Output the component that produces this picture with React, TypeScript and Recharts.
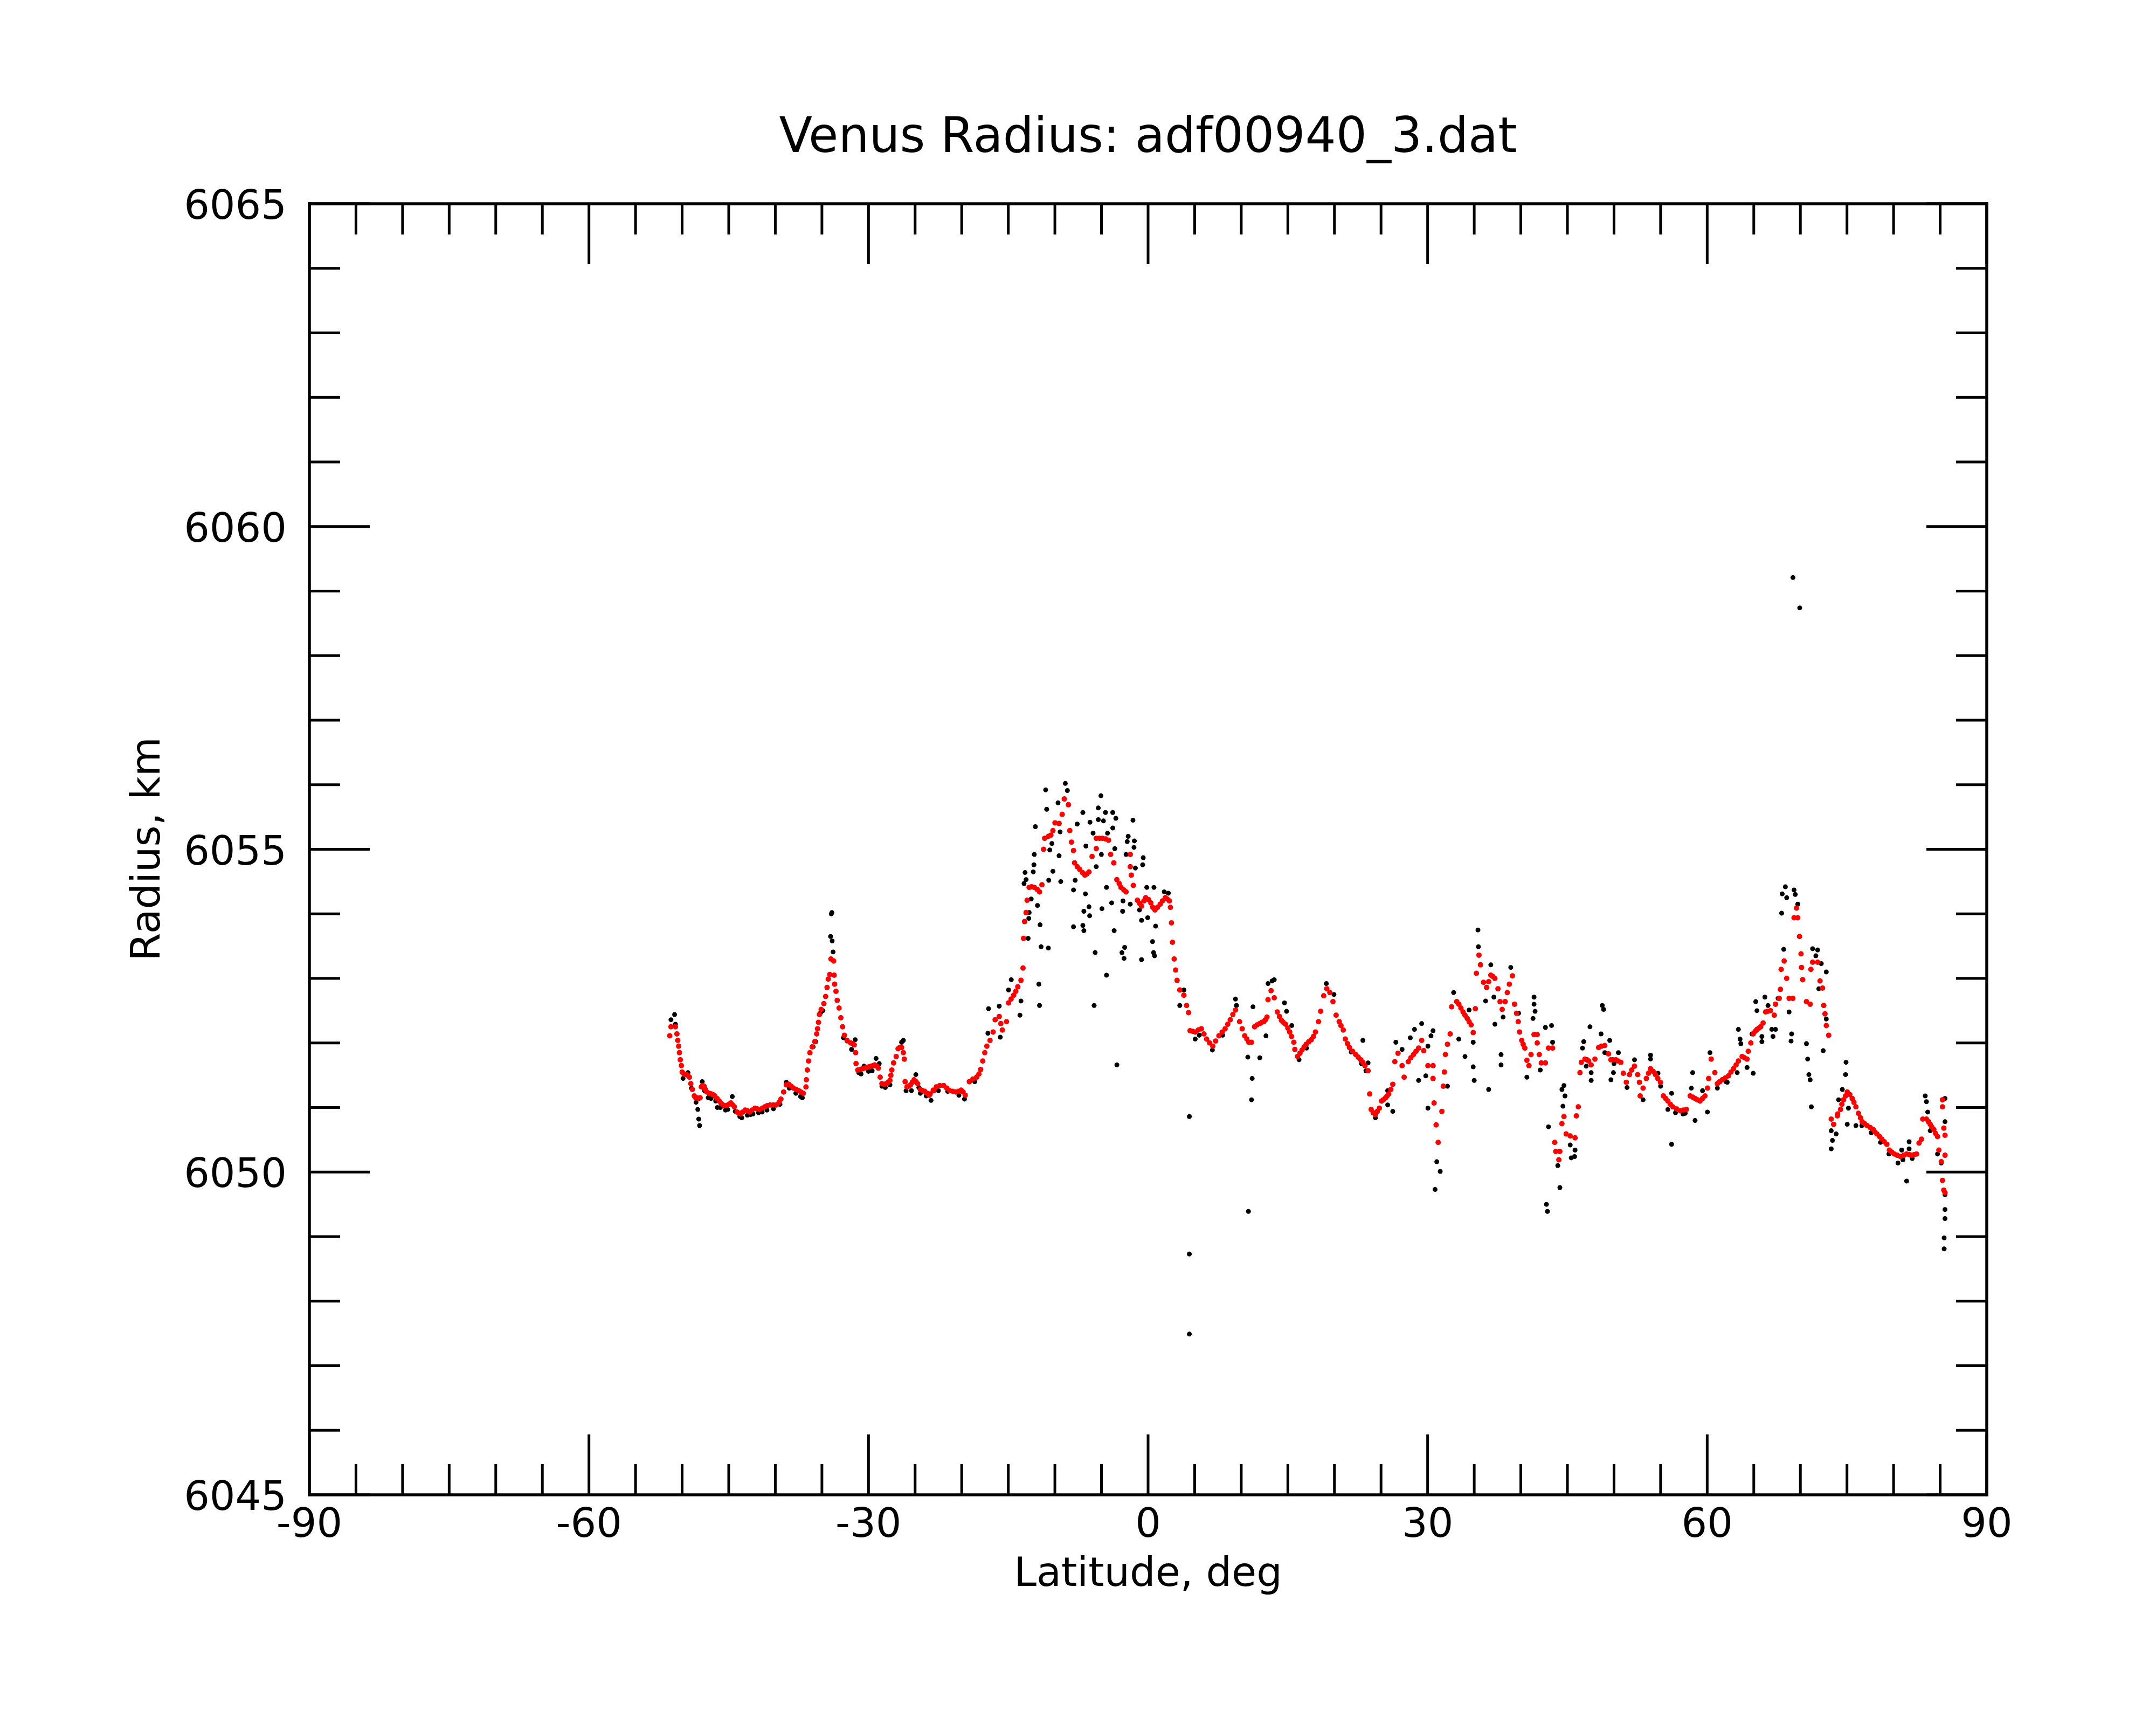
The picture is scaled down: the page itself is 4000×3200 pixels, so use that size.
import React from 'react';
import { ScatterChart, Scatter, XAxis, YAxis } from 'recharts';

const CHART_TITLE = 'Venus Radius: adf00940_3.dat';
const X_LABEL = 'Latitude, deg';
const Y_LABEL = 'Radius, km';

const xTicks = [-90, -85, -80, -75, -70, -65, -60, -55, -50, -45, -40, -35, -30, -25, -20, -15, -10, -5, 0, 5, 10, 15, 20, 25, 30, 35, 40, 45, 50, 55, 60, 65, 70, 75, 80, 85, 90];
const xTickLabels = [-90, -60, -30, 0, 30, 60, 90];
const yTicks = [6045, 6046, 6047, 6048, 6049, 6050, 6051, 6052, 6053, 6054, 6055, 6056, 6057, 6058, 6059, 6060, 6061, 6062, 6063, 6064, 6065];
const yTickLabels = [6045, 6050, 6055, 6060, 6065];

// smoothed radius (red), [latitude, radius]
const smoothSouth: [number, number][] = [
  [-51.33, 6052.11], [-51.2, 6052.25], [-50.72, 6052.25], [-50.56, 6052.14], [-50.47, 6052.04], [-50.37, 6051.95], [-50.29, 6051.85], [-50.2, 6051.74], [-50.08, 6051.65], [-50.0, 6051.55],
  [-49.57, 6051.51], [-49.22, 6051.47], [-49.07, 6051.37], [-48.9, 6051.28], [-48.7, 6051.18], [-48.41, 6051.15], [-48.07, 6051.15], [-47.94, 6051.32], [-47.65, 6051.33], [-47.36, 6051.24],
  [-46.88, 6051.21], [-46.5, 6051.18], [-46.02, 6051.1], [-45.63, 6051.04], [-45.25, 6051.03], [-44.77, 6051.07], [-44.39, 6051.01], [-44.1, 6050.93], [-43.72, 6050.9], [-43.24, 6050.96],
  [-42.76, 6050.93], [-42.18, 6050.99], [-41.7, 6050.97], [-41.13, 6051.01], [-40.55, 6051.04], [-39.88, 6051.04], [-39.4, 6051.13], [-39.11, 6051.24], [-38.82, 6051.35], [-38.54, 6051.36],
  [-38.06, 6051.3], [-37.48, 6051.26], [-37.0, 6051.22], [-36.71, 6051.32], [-36.67, 6051.43], [-36.56, 6051.58], [-36.43, 6051.72], [-36.29, 6051.85], [-36.04, 6051.94], [-35.76, 6052.02],
  [-35.56, 6052.14], [-35.47, 6052.22], [-35.37, 6052.32], [-35.27, 6052.44], [-35.08, 6052.52], [-34.79, 6052.61], [-34.6, 6052.72], [-34.45, 6052.86], [-34.32, 6052.99], [-34.16, 6053.06],
  [-34.03, 6053.3], [-33.74, 6053.27], [-33.68, 6053.05], [-33.64, 6052.91], [-33.49, 6052.8], [-33.36, 6052.66], [-33.16, 6052.54], [-32.97, 6052.39], [-32.78, 6052.25], [-32.59, 6052.12],
  [-32.3, 6052.04], [-31.92, 6052.0], [-31.53, 6051.97], [-31.38, 6051.85], [-31.34, 6051.68], [-31.15, 6051.58], [-30.67, 6051.6], [-30.19, 6051.62], [-29.71, 6051.64], [-29.33, 6051.66],
  [-28.95, 6051.61], [-28.75, 6051.47], [-28.56, 6051.37], [-28.08, 6051.37], [-27.7, 6051.42], [-27.6, 6051.5], [-27.5, 6051.58], [-27.31, 6051.69], [-27.03, 6051.79], [-26.83, 6051.91],
  [-26.45, 6051.93], [-26.26, 6051.85], [-26.16, 6051.75], [-26.07, 6051.4], [-25.88, 6051.32], [-25.49, 6051.35], [-25.11, 6051.43], [-24.73, 6051.37], [-24.44, 6051.28], [-23.96, 6051.25],
  [-23.48, 6051.19], [-23.0, 6051.26],
  [-49.8, 6051.52], [-49.4, 6051.5], [-48.55, 6051.15], [-48.25, 6051.14], [-47.8, 6051.34], [-47.5, 6051.28], [-47.1, 6051.22], [-46.7, 6051.2], [-46.25, 6051.14], [-45.85, 6051.07],
  [-45.45, 6051.03], [-45.0, 6051.05], [-44.58, 6051.04], [-43.9, 6050.91], [-43.5, 6050.93], [-43.0, 6050.95], [-42.5, 6050.96], [-41.95, 6050.98], [-41.4, 6050.99], [-40.85, 6051.03],
  [-40.2, 6051.04], [-39.6, 6051.08], [-38.3, 6051.33], [-37.75, 6051.28], [-37.25, 6051.24], [-31.7, 6051.99], [-30.9, 6051.59], [-30.45, 6051.61], [-29.95, 6051.63], [-29.5, 6051.65],
  [-29.1, 6051.64], [-28.3, 6051.36], [-27.9, 6051.39], [-26.65, 6051.93], [-25.7, 6051.33], [-25.3, 6051.39], [-24.9, 6051.4], [-24.2, 6051.26], [-23.7, 6051.22],
];

const smoothEquator: [number, number][] = [
  [-23.38, 6051.21], [-22.72, 6051.32], [-21.94, 6051.34], [-21.28, 6051.26], [-20.62, 6051.24], [-20.06, 6051.27], [-19.62, 6051.19], [-19.18, 6051.4], [-18.4, 6051.47], [-17.96, 6051.59],
  [-17.74, 6051.72], [-17.52, 6051.85], [-17.3, 6051.95], [-16.96, 6052.04], [-16.63, 6052.17], [-16.41, 6052.36], [-15.97, 6052.41], [-15.64, 6052.2], [-15.19, 6052.33], [-14.97, 6052.62],
  [-14.42, 6052.74], [-13.98, 6052.87], [-13.64, 6052.97], [-13.42, 6053.16], [-13.36, 6053.62], [-13.25, 6053.88], [-13.09, 6054.02], [-12.98, 6054.21], [-12.76, 6054.41], [-12.21, 6054.41],
  [-11.65, 6054.34], [-11.39, 6054.45], [-11.21, 6055.0], [-11.1, 6055.17], [-10.43, 6055.22], [-10.21, 6055.29], [-9.99, 6055.41], [-9.55, 6055.4], [-9.22, 6055.54], [-8.99, 6055.78],
  [-8.55, 6055.69], [-8.4, 6055.29], [-8.22, 6055.11], [-8.0, 6054.98], [-7.89, 6054.79], [-7.34, 6054.69], [-6.78, 6054.6], [-6.34, 6054.65], [-6.01, 6054.89], [-5.56, 6055.01],
  [-5.56, 6055.17], [-4.9, 6055.17], [-4.24, 6055.14], [-4.02, 6054.92], [-3.68, 6054.79], [-3.35, 6054.53], [-2.91, 6054.41], [-2.36, 6054.34], [-1.91, 6054.92], [-1.91, 6054.73],
  [-1.8, 6054.6], [-1.58, 6054.44], [-1.14, 6054.21], [-0.7, 6054.12], [-0.25, 6054.25], [0.3, 6054.17], [0.74, 6054.06], [1.3, 6054.15], [1.85, 6054.25], [2.29, 6054.2],
  [2.4, 6054.1], [2.51, 6053.86], [2.62, 6053.56], [2.8, 6053.3], [2.96, 6053.13], [3.11, 6052.97], [3.4, 6052.82], [3.84, 6052.74], [4.13, 6052.58], [4.35, 6052.47],
  [4.51, 6052.19], [5.06, 6052.17], [5.72, 6052.22], [6.28, 6052.06], [6.94, 6051.95], [7.6, 6052.11], [8.27, 6052.22], [8.82, 6052.36], [9.38, 6052.51], [9.82, 6052.33],
  [10.37, 6052.11], [10.81, 6052.01],
  [-23.05, 6051.27], [-22.35, 6051.34], [-21.6, 6051.3], [-20.95, 6051.25], [-20.35, 6051.25], [-19.85, 6051.24], [-18.8, 6051.44], [-18.15, 6051.52], [-15.8, 6052.3], [-14.7, 6052.68],
  [-14.2, 6052.8], [-12.5, 6054.42], [-11.9, 6054.38], [-10.7, 6055.2], [-7.6, 6054.73], [-7.05, 6054.64], [-6.55, 6054.62], [-5.2, 6055.17], [-4.55, 6055.16], [-3.1, 6054.47],
  [-2.6, 6054.37], [-0.9, 6054.16], [-0.45, 6054.2], [0.05, 6054.22], [0.5, 6054.1], [1.0, 6054.1], [1.55, 6054.2], [2.05, 6054.23], [4.8, 6052.18], [5.4, 6052.2],
  [6.0, 6052.14], [6.6, 6052.0], [7.25, 6052.03], [7.95, 6052.17], [8.55, 6052.29], [9.1, 6052.44], [10.1, 6052.22], [10.6, 6052.06],
];

const smoothMidNorth: [number, number][] = [
  [11.1, 6052.01], [11.43, 6052.25], [11.99, 6052.3], [12.43, 6052.33], [12.76, 6052.4], [12.87, 6052.67], [13.2, 6052.81], [13.54, 6052.7], [13.87, 6052.48], [14.31, 6052.35],
  [14.75, 6052.29], [15.2, 6052.17], [15.64, 6052.01], [15.75, 6051.9], [16.04, 6051.79], [16.52, 6051.89], [16.97, 6051.98], [17.52, 6052.05], [17.96, 6052.17], [18.29, 6052.33],
  [18.52, 6052.49], [18.85, 6052.73], [19.18, 6052.84], [19.51, 6052.78], [19.84, 6052.64], [20.18, 6052.43], [20.51, 6052.33], [20.95, 6052.2], [21.17, 6052.06], [21.61, 6051.93],
  [22.28, 6051.82], [22.83, 6051.74], [23.27, 6051.65], [23.61, 6051.57], [23.78, 6051.21], [23.94, 6050.97], [24.38, 6050.89], [24.82, 6050.99], [25.05, 6051.1], [25.49, 6051.15],
  [25.82, 6051.21], [26.26, 6051.36], [26.48, 6051.71], [26.82, 6051.84], [27.26, 6051.65], [27.48, 6051.47], [27.92, 6051.71], [28.48, 6051.82], [29.03, 6051.92], [29.36, 6052.04],
  [29.58, 6051.88], [30.03, 6051.65], [30.58, 6051.65], [30.58, 6051.45], [30.69, 6051.07], [30.91, 6050.73], [31.13, 6050.46], [31.53, 6050.94], [31.68, 6051.33], [31.8, 6051.55],
  [31.91, 6051.82], [32.13, 6051.98], [32.42, 6052.14], [32.57, 6052.56], [33.12, 6052.64], [33.57, 6052.54], [34.01, 6052.43], [34.45, 6052.33], [34.67, 6052.28], [34.89, 6052.16],
  [35.12, 6052.53], [35.23, 6053.08], [35.51, 6053.36], [35.67, 6053.21], [36.0, 6052.94], [36.33, 6052.86], [36.78, 6053.05], [37.22, 6053.0], [37.55, 6052.84], [37.77, 6052.64],
  [38.0, 6052.52], [38.32, 6052.64], [38.55, 6052.78], [38.77, 6052.91], [39.1, 6053.04], [39.32, 6052.6], [39.54, 6052.46], [39.72, 6052.33], [39.87, 6052.17], [40.1, 6052.04],
  [40.43, 6051.92], [40.65, 6051.73], [40.87, 6051.65], [41.09, 6051.82], [41.42, 6052.13], [41.76, 6052.13], [41.76, 6052.0], [41.98, 6051.82], [42.2, 6051.69], [42.64, 6051.69],
  [42.97, 6051.92], [43.41, 6051.92], [43.64, 6050.46], [43.75, 6050.32], [44.08, 6050.19], [44.19, 6050.32], [44.41, 6050.75], [44.63, 6050.86], [44.86, 6050.59], [45.3, 6050.56],
  [11.7, 6052.28], [12.2, 6052.32], [12.6, 6052.36], [14.1, 6052.41], [14.5, 6052.32], [15.0, 6052.23], [15.4, 6052.1], [16.3, 6051.84], [16.75, 6051.94], [17.25, 6052.02],
  [17.75, 6052.1], [20.7, 6052.27], [21.4, 6051.99], [21.95, 6051.87], [22.55, 6051.78], [23.05, 6051.7], [24.15, 6050.92], [24.6, 6050.94], [25.25, 6051.12], [25.65, 6051.18],
  [26.05, 6051.28], [28.2, 6051.77], [28.75, 6051.87], [33.35, 6052.6], [33.8, 6052.48], [34.25, 6052.38], [36.55, 6052.95], [37.0, 6053.03], [40.25, 6051.98],
];

const smoothNorth: [number, number][] = [
  [45.82, 6050.53], [45.96, 6050.87], [46.17, 6051.01], [46.35, 6051.54], [46.49, 6051.7], [46.88, 6051.75], [47.28, 6051.72], [47.55, 6051.66], [47.95, 6051.75], [48.35, 6051.93],
  [49.01, 6051.96], [49.41, 6051.83], [49.67, 6051.74], [50.2, 6051.74], [50.74, 6051.7], [51.0, 6051.53], [51.32, 6051.39], [51.66, 6051.51], [52.2, 6051.64], [52.54, 6051.51],
  [52.73, 6051.39], [52.81, 6051.18], [53.12, 6051.3], [53.47, 6051.45], [53.92, 6051.6], [54.45, 6051.51], [54.98, 6051.39], [55.3, 6051.18], [55.78, 6051.1], [56.31, 6051.01],
  [57.11, 6050.95], [57.77, 6050.97], [58.17, 6051.18], [58.7, 6051.14], [59.23, 6051.1], [59.76, 6051.18], [60.03, 6051.3], [60.16, 6051.45], [60.43, 6051.75], [60.82, 6051.54],
  [61.09, 6051.37], [61.62, 6051.43], [62.29, 6051.49], [62.82, 6051.6], [63.35, 6051.72], [63.75, 6051.79], [64.28, 6051.75], [64.41, 6051.87], [64.68, 6052.0], [64.94, 6052.14],
  [65.34, 6052.21], [65.74, 6052.25], [66.0, 6052.31], [66.27, 6052.48], [66.8, 6052.5], [67.2, 6052.43], [67.33, 6052.6], [67.73, 6052.69], [67.86, 6052.83], [67.94, 6053.14],
  [68.26, 6053.27], [68.53, 6053.0], [68.79, 6052.69], [69.19, 6052.69], [69.32, 6053.94], [69.59, 6054.09], [69.72, 6053.94], [69.91, 6053.65], [70.07, 6053.38], [70.12, 6053.17],
  [70.25, 6052.98], [70.65, 6052.64], [71.05, 6052.6], [71.13, 6053.14], [71.31, 6053.25], [71.85, 6053.25], [72.11, 6052.96], [72.38, 6052.85], [72.51, 6052.58], [72.64, 6052.45],
  [72.78, 6052.27], [73.04, 6052.12], [73.31, 6050.82], [73.57, 6050.74], [73.97, 6050.87], [74.31, 6050.97], [74.63, 6051.12], [75.03, 6051.24], [75.56, 6051.14], [75.96, 6051.01],
  [76.23, 6050.91], [76.62, 6050.78], [77.16, 6050.72], [77.82, 6050.66], [78.22, 6050.59], [78.75, 6050.51], [79.28, 6050.43], [79.55, 6050.34], [80.08, 6050.28], [80.74, 6050.24],
  [81.4, 6050.28], [81.94, 6050.26], [82.47, 6050.28], [82.73, 6050.45], [83.0, 6050.51], [83.13, 6050.82], [83.53, 6050.82], [83.93, 6050.74], [84.32, 6050.66], [84.72, 6050.55],
  [84.86, 6050.34], [85.12, 6050.16], [85.25, 6051.12], [85.25, 6051.01], [85.39, 6050.68], [85.52, 6050.57], [85.52, 6050.26], [85.25, 6049.87], [85.39, 6049.72], [85.52, 6049.68],
  [47.1, 6051.74], [48.65, 6051.95], [49.9, 6051.74], [50.45, 6051.72], [51.9, 6051.58], [53.7, 6051.53], [54.2, 6051.56], [54.7, 6051.45], [55.55, 6051.14], [56.05, 6051.05],
  [56.7, 6050.98], [57.45, 6050.96], [58.45, 6051.16], [58.95, 6051.12], [59.5, 6051.14], [61.35, 6051.4], [61.95, 6051.46], [62.55, 6051.55], [63.1, 6051.66], [64.0, 6051.77],
  [65.15, 6052.18], [65.55, 6052.23], [66.5, 6052.49], [74.0, 6050.9], [74.45, 6051.05], [74.85, 6051.18], [75.3, 6051.2], [75.75, 6051.08], [76.45, 6050.84], [76.9, 6050.75],
  [77.5, 6050.69], [78.0, 6050.62], [78.5, 6050.55], [79.0, 6050.47], [79.8, 6050.31], [80.4, 6050.26], [81.1, 6050.26], [81.7, 6050.27], [82.2, 6050.27], [83.75, 6050.78],
  [84.1, 6050.7], [84.5, 6050.6],
];

// raw radius samples (black), [latitude, radius]
const rawSouth: [number, number][] = [
  [-50.81, 6052.44], [-51.2, 6052.36], [-50.72, 6052.29], [-48.51, 6051.08], [-48.32, 6050.97], [-48.22, 6050.82], [-48.13, 6050.72], [-49.37, 6051.54], [-47.84, 6051.4], [-47.2, 6051.15],
  [-46.21, 6051.0], [-45.35, 6050.96], [-44.62, 6051.17], [-43.81, 6050.86], [-42.66, 6050.89], [-41.41, 6050.93], [-38.82, 6051.39], [-37.29, 6051.17], [-35.94, 6051.94], [-35.66, 6052.02],
  [-35.14, 6052.47], [-34.89, 6052.5], [-33.99, 6054.0], [-33.93, 6054.02], [-34.07, 6053.65], [-33.9, 6053.58], [-33.8, 6053.41], [-32.69, 6052.08], [-32.3, 6052.03], [-31.82, 6051.9],
  [-31.43, 6052.05], [-31.05, 6051.54], [-30.48, 6051.64], [-29.61, 6051.57], [-29.19, 6051.76], [-28.85, 6051.68], [-28.56, 6051.33], [-27.7, 6051.35], [-26.45, 6052.01], [-26.26, 6052.04],
  [-25.97, 6051.26], [-25.39, 6051.26], [-24.92, 6051.51], [-24.44, 6051.22], [-23.29, 6051.11],
  [-49.9, 6051.45], [-49.0, 6051.3], [-47.6, 6051.26], [-46.9, 6051.14], [-46.4, 6051.1], [-45.9, 6051.0], [-45.1, 6050.97], [-44.3, 6050.94], [-43.6, 6050.84], [-43.0, 6050.88],
  [-42.4, 6050.9], [-41.8, 6050.92], [-40.9, 6050.96], [-40.2, 6050.98], [-39.5, 6051.05], [-38.5, 6051.3], [-37.8, 6051.22], [-37.1, 6051.15], [-30.8, 6051.52], [-30.0, 6051.56],
  [-28.2, 6051.31], [-24.6, 6051.31], [-23.8, 6051.18],
];

const rawEquator: [number, number][] = [
  [-10.99, 6055.92], [-8.88, 6056.02], [-8.66, 6055.91], [-5.06, 6055.83], [-12.09, 6055.35], [-10.88, 6055.62], [-9.66, 6055.72], [-7.0, 6055.57], [-5.34, 6055.64], [-4.57, 6055.57],
  [-3.79, 6055.57], [-3.46, 6055.48], [-1.62, 6055.45], [-7.6, 6055.39], [-6.23, 6055.42], [-5.34, 6055.46], [-4.79, 6055.44], [-3.79, 6055.33], [-5.9, 6055.25], [-4.35, 6055.25],
  [-9.44, 6055.27], [-2.13, 6055.2], [-2.24, 6055.12], [-1.47, 6055.13], [-1.51, 6055.03], [-10.32, 6055.09], [-10.55, 6054.99], [-9.55, 6054.9], [-12.21, 6054.92], [-6.67, 6055.05],
  [-5.01, 6054.92], [-3.57, 6055.01], [-2.36, 6054.92], [-0.52, 6054.87], [-0.58, 6054.76], [-12.25, 6054.76], [-13.2, 6054.64], [-12.32, 6054.65], [-10.21, 6054.66], [-5.56, 6054.73],
  [-1.36, 6054.71], [-13.09, 6054.53], [-10.66, 6054.52], [-9.37, 6054.5], [-7.82, 6054.52], [-13.31, 6054.47], [-8.0, 6054.37], [-6.72, 6054.31], [-4.46, 6054.41], [-0.14, 6054.41],
  [0.63, 6054.41], [1.74, 6054.34], [2.18, 6054.32], [-12.54, 6054.23], [-11.87, 6054.13], [-3.91, 6054.17], [-2.69, 6054.2], [-1.91, 6054.15], [-6.34, 6054.11], [-6.89, 6054.04],
  [-4.95, 6054.08], [-2.73, 6054.04], [-0.92, 6054.06], [-12.76, 6054.02], [-6.27, 6053.97], [-0.7, 6053.9], [-0.04, 6053.94], [-12.8, 6053.93], [-11.59, 6053.83], [-8.0, 6053.8],
  [-7.0, 6053.82], [-6.89, 6053.74], [0.81, 6053.81], [-3.64, 6053.74], [-12.87, 6053.62], [-11.48, 6053.49], [-10.7, 6053.47], [-5.68, 6053.4], [-2.51, 6053.48], [-2.8, 6053.4],
  [-2.58, 6053.31], [-0.7, 6053.29], [0.48, 6053.57], [0.59, 6053.4], [0.7, 6053.35], [-4.46, 6053.05], [-11.72, 6052.91], [-11.65, 6052.58], [-5.79, 6052.58], [-13.75, 6052.43],
  [-13.64, 6052.65], [-14.68, 6052.98], [-15.97, 6052.57], [-17.12, 6052.53], [-14.97, 6052.82], [-17.19, 6052.15], [-15.86, 6052.09], [9.38, 6052.68], [9.49, 6052.58], [3.4, 6052.58],
  [3.84, 6052.82], [5.06, 6052.06], [-3.35, 6051.66], [10.7, 6051.78], [4.43, 6050.86], [4.43, 6048.73], [4.43, 6047.49], [10.77, 6049.39],
  [-22.5, 6051.26], [-21.5, 6051.25], [-20.3, 6051.19], [-19.7, 6051.13], [-18.6, 6051.4], [5.5, 6052.12], [6.9, 6051.89], [8.0, 6052.12],
];

const rawMidNorth: [number, number][] = [
  [13.54, 6052.98], [12.87, 6052.92], [13.31, 6052.96], [11.26, 6052.56], [12.65, 6052.11], [11.99, 6051.77], [11.17, 6051.45], [11.1, 6051.12], [14.64, 6052.62], [14.86, 6052.49],
  [15.42, 6052.27], [19.13, 6052.92], [19.95, 6052.75], [23.05, 6052.04], [23.61, 6051.69], [23.38, 6051.57], [25.71, 6051.26], [26.26, 6050.94], [25.71, 6051.04], [26.59, 6052.01],
  [27.26, 6051.9], [28.14, 6052.08], [28.59, 6052.21], [29.36, 6052.3], [30.58, 6052.19], [30.36, 6052.11], [30.03, 6051.95], [29.03, 6051.42], [29.8, 6051.49], [30.03, 6050.99],
  [32.13, 6051.33], [30.98, 6050.16], [31.35, 6050.01], [30.8, 6049.73], [32.79, 6052.78], [33.34, 6052.06], [34.01, 6051.79], [34.45, 6052.51], [34.89, 6052.01], [34.89, 6051.63],
  [35.0, 6051.42], [35.4, 6053.75], [35.45, 6053.49], [36.22, 6052.65], [36.78, 6053.21], [37.11, 6052.71], [37.22, 6052.29], [36.55, 6051.28], [37.88, 6051.82], [37.88, 6051.66],
  [38.1, 6052.4], [38.92, 6053.17], [39.76, 6052.46], [40.65, 6051.47], [41.42, 6052.71], [41.42, 6052.6], [41.53, 6052.49], [41.31, 6052.38], [42.64, 6052.24], [43.3, 6052.27],
  [43.41, 6052.01], [42.09, 6051.58], [42.97, 6050.7], [42.75, 6049.5], [42.86, 6049.39], [44.19, 6049.76], [44.63, 6051.34], [44.41, 6051.28], [44.74, 6051.18], [44.52, 6051.02],
  [43.97, 6050.1], [45.3, 6050.42], [45.41, 6050.22],
  [16.2, 6051.74], [17.0, 6051.92], [21.8, 6051.86], [22.9, 6051.68], [24.4, 6050.84],
];

const rawNorth: [number, number][] = [
  [45.82, 6050.34], [45.77, 6050.24], [46.75, 6052.02], [46.62, 6051.92], [47.42, 6052.25], [47.02, 6051.64], [47.55, 6051.54], [47.55, 6051.42], [48.74, 6052.58], [48.88, 6052.52],
  [48.61, 6052.14], [49.54, 6052.04], [49.01, 6051.85], [49.67, 6051.43], [49.94, 6051.54], [50.47, 6051.85], [51.4, 6051.31], [52.2, 6051.74], [53.12, 6051.12], [53.92, 6051.81],
  [53.92, 6051.75], [54.72, 6051.53], [56.18, 6051.22], [55.78, 6050.97], [56.18, 6050.43], [57.64, 6050.91], [58.44, 6051.54], [58.3, 6051.3], [58.7, 6050.8], [59.5, 6051.26],
  [60.03, 6050.93], [60.3, 6051.85], [61.09, 6051.3], [62.15, 6051.39], [63.22, 6051.54], [63.35, 6052.21], [63.53, 6052.06], [63.61, 6051.99], [64.28, 6051.62], [64.94, 6051.53],
  [64.81, 6052.14], [65.21, 6052.64], [65.34, 6052.5], [65.87, 6052.1], [65.87, 6052.02], [66.19, 6052.71], [66.53, 6052.58], [66.93, 6052.21], [67.06, 6052.1], [67.33, 6052.21],
  [67.6, 6052.69], [67.99, 6054.01], [68.05, 6054.31], [68.39, 6054.42], [68.53, 6054.25], [69.32, 6054.37], [69.45, 6054.3], [69.72, 6054.15], [68.21, 6053.45], [68.79, 6052.48],
  [69.06, 6052.14], [69.0, 6052.03], [70.65, 6051.99], [70.78, 6051.75], [70.91, 6051.51], [71.05, 6051.43], [71.18, 6051.01], [71.31, 6053.46], [71.85, 6053.44], [71.66, 6053.35],
  [72.24, 6053.23], [72.78, 6053.1], [71.98, 6052.84], [72.45, 6051.88], [72.78, 6052.37], [74.9, 6051.7], [74.85, 6051.51], [74.5, 6051.28], [74.1, 6051.12], [75.16, 6050.99],
  [75.03, 6050.74], [75.96, 6050.72], [73.84, 6050.59], [73.44, 6050.49], [73.31, 6050.36], [73.31, 6050.64], [80.47, 6050.14], [80.87, 6050.34], [81.67, 6050.47], [81.4, 6049.86],
  [81.67, 6050.36], [83.4, 6051.18], [83.53, 6051.09], [83.66, 6050.93], [83.93, 6050.64], [85.52, 6051.14], [85.52, 6050.78], [84.72, 6050.28], [85.12, 6050.14], [85.52, 6049.65],
  [85.52, 6049.42], [85.52, 6049.28], [85.43, 6048.98], [85.43, 6048.81], [69.2, 6059.21], [69.93, 6058.74],
  [50.0, 6051.68], [55.0, 6051.33], [56.6, 6050.92], [57.4, 6050.9], [62.0, 6051.4], [76.6, 6050.72], [77.6, 6050.61], [78.6, 6050.46], [79.5, 6050.28], [81.0, 6050.19],
  [82.0, 6050.21],
];

const toPoints = (rows: [number, number][]) => rows.map(([lat, radius]) => ({ lat, radius }));
const rawData = toPoints([...rawSouth, ...rawEquator, ...rawMidNorth, ...rawNorth]);
const smoothData = toPoints([...smoothSouth, ...smoothEquator, ...smoothMidNorth, ...smoothNorth]);

const FONT = 'DejaVu Sans';
const MAJOR_LEN = 112;
const MINOR_LEN = 57;
const TICK_W = 5;

const BlackDot = (p: any) => <circle cx={p.cx} cy={p.cy} r={4.5} fill="#000000" />;
const RedDot = (p: any) => <circle cx={p.cx} cy={p.cy} r={5} fill="#ff0000" />;

const BottomTick = (p: any) => {
  const v = p.payload.value;
  const major = xTickLabels.includes(v);
  return (
    <g>
      <line x1={p.x} y1={p.y} x2={p.x} y2={p.y - (major ? MAJOR_LEN : MINOR_LEN)} stroke="#000" strokeWidth={TICK_W} />
      {major && (
        <text x={p.x} y={p.y + 78} textAnchor="middle" fontSize={75} fontFamily={FONT} fill="#000">
          {String(v)}
        </text>
      )}
    </g>
  );
};

const TopTick = (p: any) => {
  const v = p.payload.value;
  const major = xTickLabels.includes(v);
  return <line x1={p.x} y1={p.y} x2={p.x} y2={p.y + (major ? MAJOR_LEN : MINOR_LEN)} stroke="#000" strokeWidth={TICK_W} />;
};

const LeftTick = (p: any) => {
  const v = p.payload.value;
  const major = yTickLabels.includes(v);
  return (
    <g>
      <line x1={p.x} y1={p.y} x2={p.x + (major ? MAJOR_LEN : MINOR_LEN)} y2={p.y} stroke="#000" strokeWidth={TICK_W} />
      {major && (
        <text x={p.x - 42} y={p.y + 28} textAnchor="end" fontSize={75} fontFamily={FONT} fill="#000">
          {String(v)}
        </text>
      )}
    </g>
  );
};

const RightTick = (p: any) => {
  const v = p.payload.value;
  const major = yTickLabels.includes(v);
  return <line x1={p.x} y1={p.y} x2={p.x - (major ? MAJOR_LEN : MINOR_LEN)} y2={p.y} stroke="#000" strokeWidth={TICK_W} />;
};

const axisLineStyle = { stroke: '#000', strokeWidth: 5.5, strokeLinecap: 'square' as const };

export default function App() {
  return (
    <div style={{ position: 'absolute', left: 0, top: 0, width: 4000, height: 3200, background: '#ffffff' }}>
      <ScatterChart width={4000} height={3200} margin={{ top: 377, right: 313, bottom: 426, left: 573 }}>
        <XAxis
          xAxisId="bottom"
          orientation="bottom"
          dataKey="lat"
          type="number"
          domain={[-90, 90]}
          ticks={xTicks}
          interval={0}
          height={1}
          tickSize={0}
          tickMargin={0}
          tickLine={false}
          axisLine={axisLineStyle}
          tick={<BottomTick />}
          allowDataOverflow
        />
        <XAxis
          xAxisId="top"
          orientation="top"
          dataKey="lat"
          type="number"
          domain={[-90, 90]}
          ticks={xTicks}
          interval={0}
          height={1}
          tickSize={0}
          tickMargin={0}
          tickLine={false}
          axisLine={axisLineStyle}
          tick={<TopTick />}
          allowDataOverflow
        />
        <YAxis
          yAxisId="left"
          orientation="left"
          dataKey="radius"
          type="number"
          domain={[6045, 6065]}
          ticks={yTicks}
          interval={0}
          width={1}
          tickSize={0}
          tickMargin={0}
          tickLine={false}
          axisLine={axisLineStyle}
          tick={<LeftTick />}
          allowDataOverflow
        />
        <YAxis
          yAxisId="right"
          orientation="right"
          dataKey="radius"
          type="number"
          domain={[6045, 6065]}
          ticks={yTicks}
          interval={0}
          width={1}
          tickSize={0}
          tickMargin={0}
          tickLine={false}
          axisLine={axisLineStyle}
          tick={<RightTick />}
          allowDataOverflow
        />
        <Scatter data={rawData} xAxisId="bottom" yAxisId="left" shape={BlackDot} isAnimationActive={false} />
        <Scatter data={smoothData} xAxisId="bottom" yAxisId="left" shape={RedDot} isAnimationActive={false} />
        <text x={2130} y={282} textAnchor="middle" fontSize={90} fontFamily={FONT} fill="#000">
          {CHART_TITLE}
        </text>
        <text x={2130} y={2942} textAnchor="middle" fontSize={75} fontFamily={FONT} fill="#000">
          {X_LABEL}
        </text>
        <text x={296} y={1575} transform="rotate(-90, 296, 1575)" textAnchor="middle" fontSize={75} fontFamily={FONT} fill="#000">
          {Y_LABEL}
        </text>
      </ScatterChart>
    </div>
  );
}
